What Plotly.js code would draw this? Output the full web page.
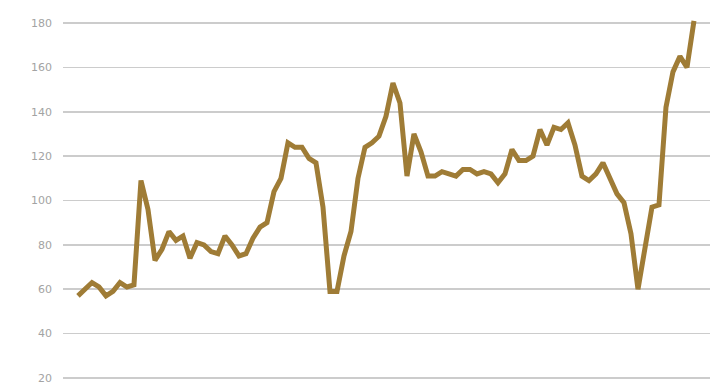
<!DOCTYPE html>
<html>
<head>
<meta charset="utf-8">
<script src="https://cdn.plot.ly/plotly-3.0.1.min.js"></script>
<style>html,body{margin:0;padding:0;background:#fff;}#chart{width:710px;height:390px;}</style>
</head>
<body>
<div id="chart"></div>
<script>
const periods = Array.from({length: 89}, (_, i) => i);
const values = [57,60,63,61,57,59,63,61,62,109,96,73,78,86,82,84,74,81,80,77,76,84,80,75,76,83,88,90,104,110,126,124,124,119,117,97,59,59,75,86,110,124,126,129,138,153,144,111,130,122,111,111,113,112,111,114,114,112,113,112,108,112,123,118,118,120,132,125,133,132,135,125,111,109,112,117,110,103,99,85,60,80,97,98,142,158,165,160,181];
const tickVals = [20,40,60,80,100,120,140,160,180];
const tickText = ['20','40','60','80','100','120','140','160','180'];

Plotly.newPlot('chart', [{
  x: periods,
  y: values,
  type: 'scatter',
  mode: 'lines',
  line: {color: '#9F7C36', width: 5, shape: 'linear'},
  hoverinfo: 'skip'
}], {
  width: 710, height: 390,
  margin: {l: 63, r: 0, t: 12, b: 1, pad: 0},
  paper_bgcolor: '#fff', plot_bgcolor: '#fff',
  showlegend: false,
  xaxis: {range: [-2.14, 90.29], visible: false, showgrid: false, zeroline: false},
  yaxis: {
    range: [15, 185], tickvals: tickVals, ticktext: tickText,
    showgrid: true, gridcolor: '#cccccc', gridwidth: 1.5,
    zeroline: false, showline: false, ticks: '',
    ticklabelstandoff: 10,
    tickfont: {family: 'DejaVu Sans, sans-serif', size: 11, color: '#a3a3a3'}
  }
}, {staticPlot: true});
</script>
</body>
</html>
